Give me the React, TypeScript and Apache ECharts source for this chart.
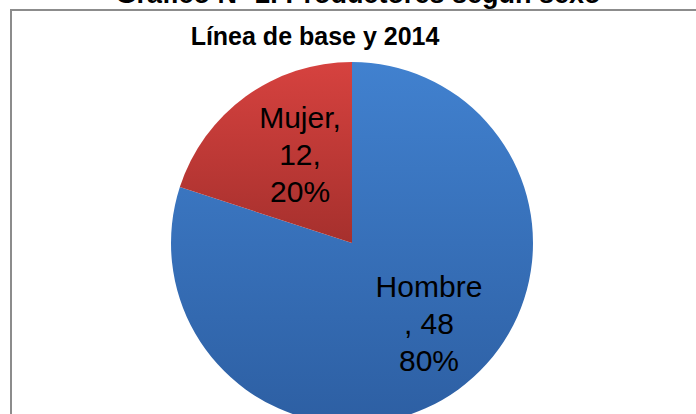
import React, { useEffect, useRef } from "react";
import * as echarts from "echarts";

const mainTitle = "Gráfico N° 2. Productores según sexo";
const subTitle = "Línea de base y 2014";
const categories = ["Hombre", "Mujer"];
const values = [48, 12];
const labelFormats = ["{b}\n, {c}\n{d}%", "{b},\n{c},\n{d}%"];
const labelShift = [
  [22, 5],
  [3, -13],
];
const gradients = [
  ["#4181cf", "#2d5fa3"],
  ["#d6423f", "#a6302d"],
];

const FONT = "'Liberation Sans', Arial, sans-serif";

export default function App() {
  const ref = useRef<HTMLDivElement>(null);
  useEffect(() => {
    if (!ref.current) return;
    const chart = echarts.init(ref.current, null, { renderer: "svg" });
    chart.setOption({
      animation: false,
      backgroundColor: "#ffffff",
      graphic: [
        {
          type: "line",
          shape: { x1: 11, y1: 10, x2: 696, y2: 10 },
          style: { stroke: "#8c8c8c", lineWidth: 2 },
        },
        {
          type: "line",
          shape: { x1: 11, y1: 9, x2: 11, y2: 414 },
          style: { stroke: "#8c8c8c", lineWidth: 2 },
        },
        {
          type: "text",
          x: 358,
          y: -6,
          style: {
            text: mainTitle,
            font: `bold 27px ${FONT}`,
            fill: "#000",
            align: "center",
            verticalAlign: "middle",
          },
        },
        {
          type: "text",
          x: 315,
          y: 35.5,
          style: {
            text: subTitle,
            font: `bold 25px ${FONT}`,
            fill: "#000",
            align: "center",
            verticalAlign: "middle",
          },
        },
      ],
      series: [
        {
          type: "pie",
          center: [352, 243],
          radius: 181,
          startAngle: 90,
          clockwise: true,
          label: {
            show: true,
            position: "inside",
            fontFamily: FONT,
            fontSize: 30,
            lineHeight: 37,
            color: "#000",
            align: "center",
          },
          labelLayout: (params: any) => ({
            dx: labelShift[params.dataIndex][0],
            dy: labelShift[params.dataIndex][1],
          }),
          labelLine: { show: false },
          emphasis: { disabled: true },
          data: categories.map((name, i) => ({
            name,
            value: values[i],
            itemStyle: {
              color: new echarts.graphic.LinearGradient(0, 0, 0, 1, [
                { offset: 0, color: gradients[i][0] },
                { offset: 1, color: gradients[i][1] },
              ]),
            },
            label: {
              formatter: labelFormats[i],
            },
          })),
        },
      ],
    });
    return () => chart.dispose();
  }, []);
  return (
    <div
      ref={ref}
      style={{ position: "fixed", left: 0, top: 0, width: 696, height: 414 }}
    />
  );
}
